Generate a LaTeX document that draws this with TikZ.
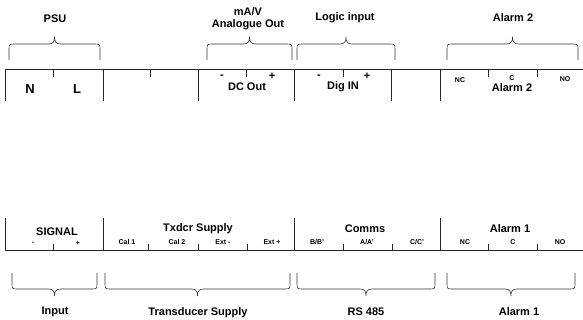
\documentclass[tikz,border=0pt]{standalone}
\usepackage{fontspec}
\setmainfont{Liberation Sans}
\usepackage{tikz}
\usetikzlibrary{calc,positioning}
\usepackage{xcolor}

% curly group bracket: left x, right x, base y, direction (-1 up, 1 down)
\newcommand{\grpbrace}[4]{%
  \pgfmathsetmacro{\brM}{(#1+#2)/2}%
  \pgfmathsetmacro{\brA}{#3+#4*10}%
  \pgfmathsetmacro{\brB}{#3+#4*16}%
  \pgfmathsetmacro{\brC}{#3+#4*19}%
  \pgfmathsetmacro{\brT}{#3+#4*23}%
  \draw[brc] (#1,#3) -- (#1,\brA) .. controls (#1,\brB) .. ({#1+6},\brB)
    -- ({\brM-6},\brB) .. controls ({\brM-1},\brB) and (\brM,\brC) .. (\brM,\brT)
    .. controls (\brM,\brC) and ({\brM+1},\brB) .. ({\brM+6},\brB)
    -- ({#2-6},\brB) .. controls (#2,\brB) .. (#2,\brA) -- (#2,#3);}

\begin{document}
\begin{tikzpicture}[x=1pt, y=-1pt,
    strip/.style={black!85, line width=0.8pt},
    brc/.style={black!80, line width=0.6pt},
    lbl/.style={font=\bfseries\fontsize{11}{12}\selectfont, inner sep=0pt},
    big/.style={font=\bfseries\fontsize{13}{14}\selectfont, inner sep=0pt},
    sml/.style={font=\bfseries\fontsize{7}{8}\selectfont, inner sep=0pt}]
    \useasboundingbox (0,0) rectangle (583,320);

    % --- Top terminal strip ---
    \coordinate (T0) at (5,69);
    \coordinate (T1) at (583,69);
    \draw[strip] (T0) -- (T1);
    \foreach \x in {5,103,198,294,391,440}
        \draw[strip] (\x,69) -- (\x,101);
    \foreach \x in {53,150,246,343,488,537}
        \draw[strip] (\x,69) -- (\x,77);

    \node[big] (n) at (30,89) {N};
    \node[big] (l) at (77,89) {L};
    \node[lbl] (dcm) at (222,77) {-};
    \node[lbl] (dcp) at (272,76) {+};
    \node[lbl] (dcout) at (247,87) {DC Out};
    \node[lbl] (dim) at (319,77) {-};
    \node[lbl] (dip) at (367,76) {+};
    \node[lbl] (digin) at (343,87) {Dig IN};
    \node[sml] (nc2) at (460,80) {NC};
    \node[sml] (c2) at (512,78) {C};
    \node[sml] (no2) at (565,79) {NO};
    \node[lbl] (al2s) at (512,88) {Alarm 2};

    % --- Top group brackets ---
    \grpbrace{9}{100}{60}{-1}
    \grpbrace{207}{292}{60}{-1}
    \grpbrace{297}{395}{60}{-1}
    \grpbrace{447}{578}{60}{-1}
    \node[lbl] (psu) at (55,19) {PSU};
    \node[lbl, align=center] (aout) at (248,19) {mA/V\\Analogue Out};
    \node[lbl] (logic) at (345,18) {Logic input};
    \node[lbl] (al2) at (513,18) {Alarm 2};

    % --- Bottom terminal strip ---
    \coordinate (B0) at (5,250);
    \coordinate (B1) at (583,250);
    \draw[strip] (B0) -- (B1);
    \foreach \x in {5,103,294,440}
        \draw[strip] (\x,218) -- (\x,250);
    \foreach \x in {53,148,198,247,343,392,488,537}
        \draw[strip] (\x,244) -- (\x,250);

    \node[lbl] (signal) at (57,232) {SIGNAL};
    \node[sml] (sgm) at (33,243) {-};
    \node[sml] (sgp) at (78,243) {+};
    \node[lbl] (txdcr) at (198,229) {Txdcr Supply};
    \foreach \nm/\x/\txt in {cal1/127/Cal 1,cal2/177/Cal 2,extm/223/Ext -,extp/272/Ext +,
                             bb/317/{B/B'},aa/367/{A/A'},cc/417/{C/C'},
                             nc1/465/NC,c1/513/C,no1/560/NO}
        \node[sml] (\nm) at (\x,242) {\txt};
    \node[lbl] (comms) at (365,229) {Comms};
    \node[lbl] (al1s) at (510,229) {Alarm 1};

    % --- Bottom group brackets ---
    \grpbrace{12}{97}{273}{1}
    \grpbrace{105}{290}{273}{1}
    \grpbrace{297}{435}{273}{1}
    \grpbrace{447}{575}{273}{1}
    \node[lbl] (inp) at (55,312) {Input};
    \node[lbl] (tsup) at (198,313) {Transducer Supply};
    \node[lbl] (rs) at (366,312) {RS 485};
    \node[lbl] (al1) at (519,312) {Alarm 1};
\end{tikzpicture}
\end{document}
